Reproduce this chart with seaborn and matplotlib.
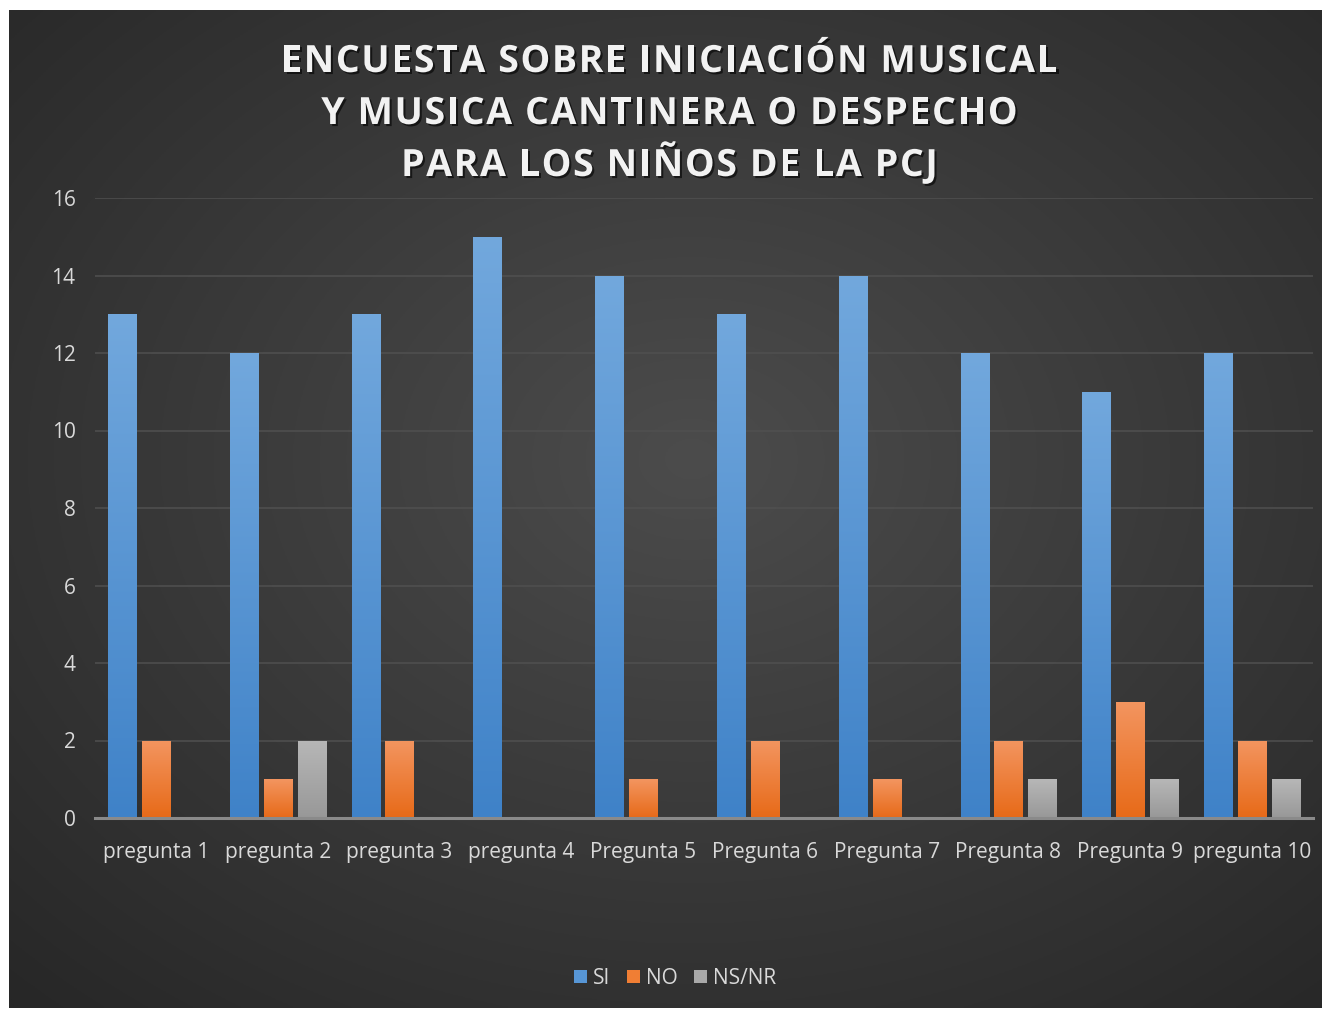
import numpy as np
import pandas as pd
import matplotlib as mpl; mpl.use("Agg")
import matplotlib.pyplot as plt
import matplotlib.patheffects as pe
from matplotlib.patches import Patch
from matplotlib.transforms import offset_copy
from matplotlib import font_manager as fm
from matplotlib.ft2font import FT2Font
import seaborn as sns

PREGUNTAS = ["pregunta 1", "pregunta 2", "pregunta 3", "pregunta 4", "Pregunta 5",
             "Pregunta 6", "Pregunta 7", "Pregunta 8", "Pregunta 9", "pregunta 10"]
SI = [13, 12, 13, 15, 14, 13, 14, 12, 11, 12]
NO = [2, 1, 2, 0, 1, 2, 1, 2, 3, 2]
NSNR = [0, 2, 0, 0, 0, 0, 0, 1, 1, 1]
SERIES = ["SI", "NO", "NS/NR"]
TITULO = ["ENCUESTA SOBRE INICIACIÓN MUSICAL",
          "Y MUSICA CANTINERA O DESPECHO",
          "PARA LOS NIÑOS DE LA PCJ"]
YTICKS = [0, 2, 4, 6, 8, 10, 12, 14, 16]

# colores (arriba, abajo) del degradado de cada serie
GRAD = {"SI": ("#72a8dd", "#3f82c8"), "NO": ("#f39560", "#e76a18"), "NS/NR": ("#b7b7b7", "#989898")}
PAL = {"SI": "#5796d6", "NO": "#f07e34", "NS/NR": "#a9a9a9"}
TXT = "#d9d9d9"

df = pd.DataFrame({"pregunta": PREGUNTAS * 3,
                   "respuesta": sum([[s] * len(PREGUNTAS) for s in SERIES], []),
                   "valor": SI + NO + NSNR})

sns.set_theme(style="dark")
plt.rcParams["font.family"] = ["Open Sans", "DejaVu Sans"]

fig = plt.figure(figsize=(13.23, 10.10), dpi=100, facecolor="white")

# fondo con degradado radial
bg = fig.add_axes([9/1323, 2/1010, 1313/1323, 998/1010], zorder=-5)
yy, xx = np.mgrid[0:1:400j, 0:1:500j]
r = np.sqrt(((xx - 0.52) / 0.75) ** 2 + ((yy - 0.45) / 0.75) ** 2)
c0, c1 = np.array([0x4c, 0x4c, 0x4c]) / 255, np.array([0x27, 0x27, 0x27]) / 255
t = np.clip(r, 0, 1)[..., None]
bg.imshow(c0 * (1 - t) + c1 * t, aspect="auto", extent=(0, 1, 0, 1), origin="upper")
bg.set_axis_off()

ax = fig.add_axes([95/1323, 192/1010, 1218/1323, 620/1010])
ax.set_facecolor("none")
sns.barplot(data=df, x="pregunta", y="valor", hue="respuesta", hue_order=SERIES,
            palette=PAL, width=0.837, gap=0.176, legend=False, ax=ax, zorder=3)

# degradado vertical dentro de cada barra
grad = np.linspace(0, 1, 256)[:, None]
for bars, s in zip(ax.containers, SERIES):
    top, bot = (np.array(mpl.colors.to_rgb(c)) for c in GRAD[s])
    img = top * (1 - grad[..., None]) + bot * grad[..., None]
    for p in bars:
        h = p.get_height()
        if h <= 0:
            p.set_visible(False); continue
        x0 = p.get_x(); w = p.get_width()
        im = ax.imshow(img, extent=(x0, x0 + w, 0, h), aspect="auto", origin="upper", zorder=3)
        im.set_clip_path(p)
        p.set_facecolor("none"); p.set_edgecolor("none")

ax.set_xlim(-0.5, len(PREGUNTAS) - 0.5)
ax.set_ylim(0, 16)
ax.set_yticks(YTICKS)
ax.grid(axis="y", color="#505050", lw=1.1, zorder=0)
ax.grid(axis="x", visible=False)
for sp in ("top", "right", "left"):
    ax.spines[sp].set_visible(False)
ax.spines["bottom"].set_color("#8a8a8a"); ax.spines["bottom"].set_linewidth(2.2)
ax.spines["bottom"].set_zorder(4)
ax.tick_params(axis="both", length=0, colors=TXT, labelsize=15)
ax.tick_params(axis="y", pad=14)
ax.tick_params(axis="x", pad=17)
ax.set_xlabel(""); ax.set_ylabel("")

# titulo con espaciado entre letras
TSIZE, TRACK = 27, 1.15
fpath = fm.findfont(fm.FontProperties(family="Open Sans", weight="bold"))
ft = FT2Font(fpath); ft.set_size(TSIZE, 72)
shadow = [pe.withSimplePatchShadow(offset=(1.5, -1.5), shadow_rgbFace="black", alpha=0.6)]
for i, linea in enumerate(TITULO):
    adv = [ft.load_char(ord(ch)).linearHoriAdvance / 65536 for ch in linea]
    total = sum(adv) + TRACK * (len(linea) - 1)
    x = -total / 2
    yb = 1 - (72 + 52 * i) / 1010
    for ch, a in zip(linea, adv):
        if ch != " ":
            fig.text(0.506, yb, ch, ha="left", va="baseline", fontsize=TSIZE,
                     fontweight="bold", color="#f2f2f2", path_effects=shadow,
                     transform=offset_copy(fig.transFigure, fig=fig, x=x, y=0, units="points"))
        x += a + TRACK

handles = [Patch(facecolor=PAL[s], edgecolor="none", label=s) for s in SERIES]
fig.legend(handles=handles, loc="center", bbox_to_anchor=(0.5105, 1 - 978/1010), ncol=3,
           frameon=False, fontsize=15, labelcolor=TXT, handlelength=0.6, handleheight=0.6,
           handletextpad=0.3, columnspacing=0.8)

fig.savefig("out.png", dpi=100, facecolor="white")
